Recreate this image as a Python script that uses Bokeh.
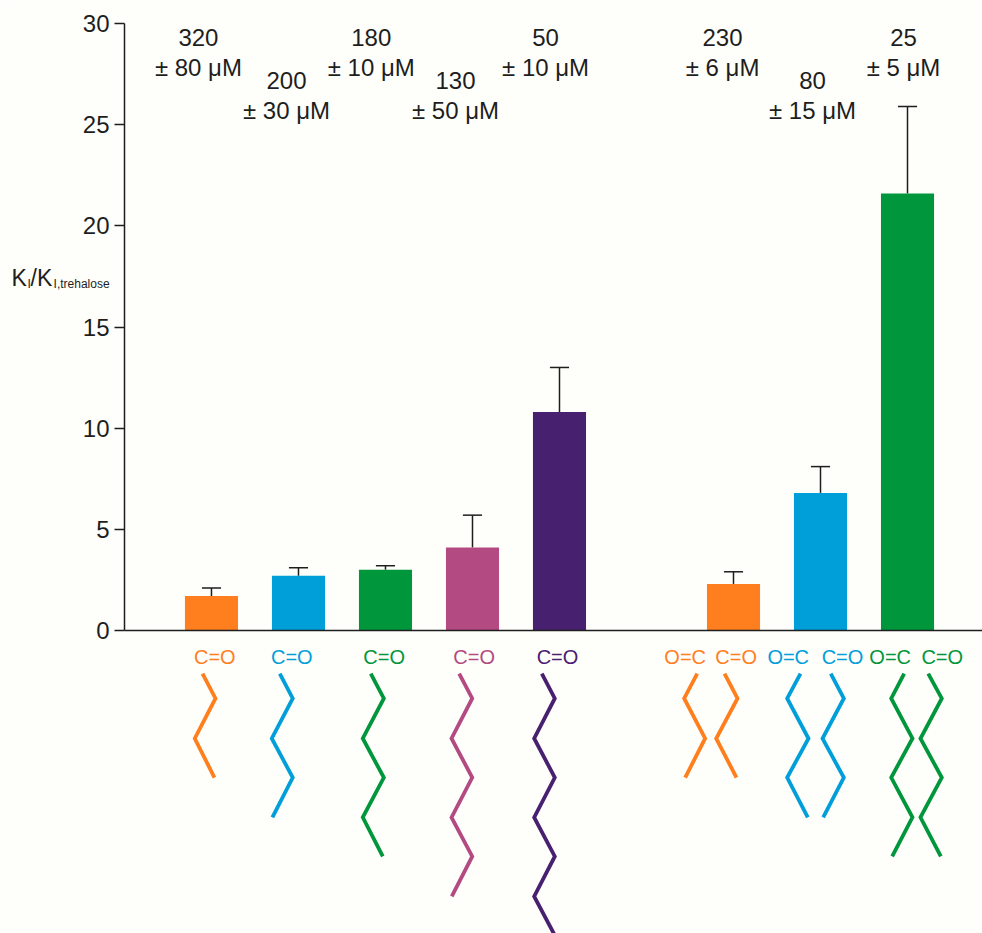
from bokeh.plotting import figure
from bokeh.models import Range1d, FixedTicker
from bokeh.core.properties import value
from bokeh.embed import file_html
from bokeh.resources import INLINE

FONT = "Liberation Sans"
BG = "#FEFEFA"
INK = "#1E1E1E"

bar_x = [0, 1, 2, 3, 4, 6, 7, 8]
bar_values = [1.7, 2.7, 3.0, 4.1, 10.8, 2.3, 6.8, 21.6]
bar_err_top = [2.1, 3.1, 3.2, 5.7, 13.0, 2.9, 8.1, 25.9]
bar_colors = ["#FF7F1F", "#009FDA", "#00963C", "#B34A82", "#482070", "#FF7F1F", "#009FDA", "#00963C"]

ki_top = ["320", "200", "180", "130", "50", "230", "80", "25"]
ki_bottom = ["± 80 μM", "± 30 μM", "± 10 μM", "± 50 μM", "± 10 μM", "± 6 μM", "± 15 μM", "± 5 μM"]
ki_x = [-0.15, 0.862, 1.836, 2.805, 3.84, 5.874, 6.908, 7.954]
ki_y_top = [29.31, 27.18, 29.31, 27.18, 29.31, 29.31, 27.18, 29.31]
ki_y_bottom = [27.83, 25.70, 27.83, 25.70, 27.83, 27.83, 25.70, 27.83]

group_labels = ["C=O", "C=O", "C=O", "C=O", "C=O", "O=C", "C=O", "O=C", "C=O", "O=C", "C=O"]
group_label_x = [0.038, 0.923, 1.985, 3.019, 3.977, 5.445, 6.031, 6.629, 7.253, 7.801, 8.399]
group_label_colors = ["#FF7F1F", "#009FDA", "#00963C", "#B34A82", "#482070",
                      "#FF7F1F", "#FF7F1F", "#009FDA", "#009FDA", "#00963C", "#00963C"]
group_label_y = -1.3

chain_y = [-2.13, -3.36, -5.34, -7.27, -9.24, -11.17, -13.15, -15.07]
chains_x = [
    [-0.103, 0.046, -0.192, 0.034],
    [0.785, 0.934, 0.693, 0.934, 0.70],
    [1.831, 1.981, 1.739, 1.981, 1.739, 1.969],
    [2.847, 2.997, 2.759, 2.997, 2.759, 2.997, 2.762],
    [3.797, 3.946, 3.709, 3.946, 3.709, 3.946, 3.709, 3.946],
    [5.583, 5.433, 5.674, 5.445],
    [5.897, 6.046, 5.801, 6.034],
    [6.77, 6.617, 6.862, 6.617, 6.854],
    [7.118, 7.268, 7.023, 7.268, 7.031],
    [7.962, 7.813, 8.057, 7.813, 8.057, 7.824],
    [8.238, 8.394, 8.149, 8.394, 8.149, 8.383],
]
chain_colors = group_label_colors

ylabel_text = ["K", "I", "/K", "I,trehalose"]
ylabel_x = [-2.30, -2.115, -2.08, -1.815]
ylabel_y = [17.40, 17.15, 17.40, 17.15]
ylabel_size = ["23px", "12px", "23px", "12px"]

AXIS_X = -1.0
X_LEFT, X_RIGHT = -2.425, 8.862

p = figure(width=982, height=933, output_backend="svg", toolbar_location=None,
           x_range=Range1d(X_LEFT, X_RIGHT), y_range=Range1d(-14.98, 31.14),
           min_border_left=0, min_border_right=0, min_border_top=0, min_border_bottom=0,
           background_fill_color=BG, border_fill_color=BG, outline_line_color=None)
p.grid.visible = False
p.xaxis.visible = False

ax = p.yaxis[0]
ax.fixed_location = AXIS_X
ax.ticker = FixedTicker(ticks=[0, 5, 10, 15, 20, 25, 30])
ax.bounds = (0, 30)
ax.major_tick_in = 0
ax.major_tick_out = 10
ax.minor_tick_line_color = None
ax.major_label_standoff = 5
ax.major_label_text_font = FONT
ax.major_label_text_font_size = "24px"
ax.major_label_text_color = INK
ax.axis_line_color = INK
ax.major_tick_line_color = INK
ax.axis_line_width = 1.5
ax.major_tick_line_width = 1.5

p.segment(bar_x, bar_values, bar_x, bar_err_top, line_color=INK, line_width=1.5)
p.segment([x - 0.11 for x in bar_x], bar_err_top, [x + 0.11 for x in bar_x], bar_err_top,
          line_color=INK, line_width=1.5)
p.vbar(x=bar_x, top=bar_values, bottom=0, width=0.61, fill_color=bar_colors, line_color=None)
p.segment([AXIS_X], [0], [X_RIGHT], [0], line_color=INK, line_width=1.5)

for cx, color in zip(chains_x, chain_colors):
    p.line(cx, chain_y[:len(cx)], line_color=color, line_width=3.8, line_join="miter", line_cap="butt")

for ys, labels in ((ki_y_top, ki_top), (ki_y_bottom, ki_bottom)):
    p.text(ki_x, ys, text=labels, text_font=value(FONT), text_font_size=value("24px"),
           text_color=INK, text_align="center", text_baseline="middle")

p.text(group_label_x, [group_label_y] * len(group_labels), text=group_labels,
       text_font=value(FONT), text_font_size=value("20px"), text_color=group_label_colors,
       text_align="center", text_baseline="middle")

p.text(ylabel_x, ylabel_y, text=ylabel_text, text_font=value(FONT), text_font_size=ylabel_size,
       text_color=INK, text_align="left", text_baseline="alphabetic")

open("out.html", "w").write(file_html(p, INLINE))
